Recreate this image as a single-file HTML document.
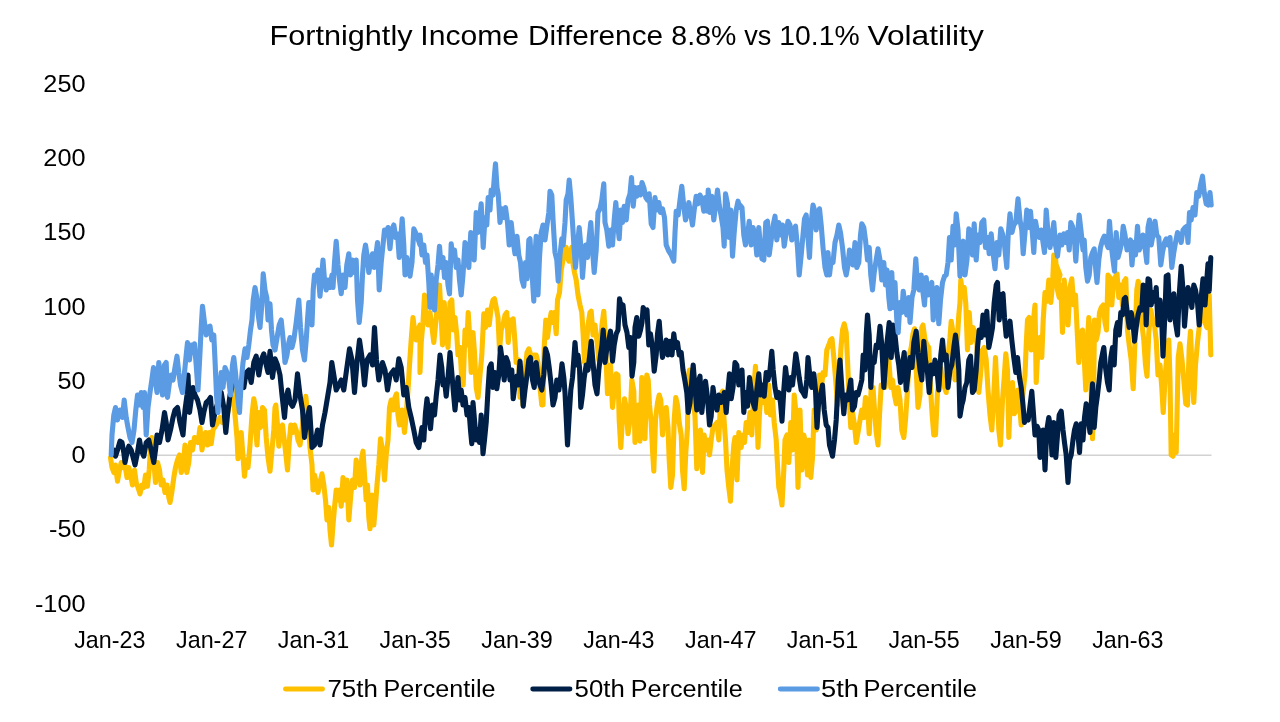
<!DOCTYPE html>
<html><head><meta charset="utf-8">
<style>
html,body{margin:0;padding:0;background:#fff;}
body{width:1280px;height:722px;overflow:hidden;}
svg{display:block;will-change:transform;font-family:"Liberation Sans",sans-serif;}
</style></head><body>
<svg width="1280" height="722" viewBox="0 0 1280 722">
<rect width="1280" height="722" fill="#fff"/>
<line x1="110" y1="455.3" x2="1211.5" y2="455.3" stroke="#d2d2d2" stroke-width="1.6"/>
<g fill="none" stroke-width="5.1" stroke-linejoin="round" stroke-linecap="round">
<path stroke="#FFC000" d="M110.5,457.5 112.0,467.5 113.8,472.5 115.5,465.0 117.5,481.2 119.5,470.0 121.2,462.5 123.0,467.5 125.0,465.0 127.0,477.5 128.8,467.5 130.5,475.0 132.5,485.0 134.5,470.0 136.2,482.5 138.0,487.5 140.0,493.8 142.0,485.0 143.8,487.5 145.5,475.0 147.5,486.2 149.2,470.0 150.8,445.0 151.8,437.5 153.0,450.0 154.5,470.0 155.5,482.5 157.5,462.5 159.5,470.0 161.2,485.0 163.0,480.0 165.0,492.5 167.0,485.0 168.8,497.5 170.0,502.5 171.8,492.5 173.8,477.5 175.5,467.5 177.5,460.0 179.5,455.0 181.2,472.5 183.2,465.0 185.0,445.0 186.8,472.5 188.8,462.5 190.5,442.5 192.5,450.0 194.5,437.5 196.2,440.0 198.0,442.5 200.0,427.5 202.0,450.0 203.8,437.5 205.5,432.5 207.5,445.0 209.5,432.5 211.2,443.8 213.0,430.0 216.2,425.0 220.0,417.5 222.5,422.5 226.2,418.8 228.8,407.5 231.2,395.0 233.0,386.2 235.0,415.0 237.0,437.5 238.0,458.8 239.5,450.0 241.2,432.5 242.5,450.0 244.5,476.2 246.2,460.0 248.0,467.5 250.0,445.0 252.0,415.0 253.8,398.8 255.5,407.5 255.5,427.5 257.0,445.0 258.8,412.5 260.5,427.5 262.5,407.5 264.5,410.0 266.2,437.5 268.0,457.5 270.0,471.2 272.0,450.0 273.8,430.0 275.0,407.5 275.8,405.0 277.5,425.0 278.8,446.2 280.5,430.0 282.5,425.0 284.5,442.5 286.2,457.5 287.5,470.0 289.2,442.5 290.8,425.0 292.5,432.5 294.5,425.0 296.2,430.0 298.0,440.0 300.0,445.0 302.0,430.0 303.8,412.5 305.8,396.2 308.0,420.0 310.0,447.5 312.0,465.0 313.0,490.0 314.5,475.0 316.2,482.5 318.0,492.5 320.0,482.5 322.0,473.8 323.8,485.0 325.5,500.0 327.0,520.0 328.8,507.5 330.0,530.0 331.5,545.0 333.0,525.0 334.5,507.5 336.2,490.0 338.0,500.0 339.5,490.0 341.2,506.2 343.0,477.5 345.0,500.0 347.0,480.0 348.8,520.0 350.8,495.0 352.5,480.0 354.5,487.5 356.2,460.0 358.0,472.5 360.0,485.0 361.8,457.5 363.0,451.2 364.5,475.0 366.2,500.0 367.5,485.0 368.8,517.5 370.0,528.8 372.0,495.0 373.8,525.0 375.5,505.0 377.0,485.0 378.8,465.0 380.5,438.8 382.5,450.0 384.5,480.0 386.2,455.0 388.0,440.0 389.5,407.5 391.2,400.0 393.0,410.0 395.0,397.5 396.5,393.8 398.0,415.0 399.5,425.0 402.0,410.0 404.5,432.5 406.2,415.0 408.0,390.0 409.5,365.0 411.2,340.0 413.0,317.5 414.5,330.0 416.2,340.0 418.0,330.0 420.0,325.0 420.0,372.5 421.2,342.5 423.0,322.5 424.5,295.0 426.2,317.5 428.0,325.0 430.0,312.5 432.0,327.5 433.8,342.5 435.5,325.0 437.5,305.0 439.5,285.0 441.2,317.5 442.5,345.0 444.2,302.5 446.2,330.0 448.0,347.5 450.0,302.5 451.8,300.0 453.2,330.0 455.0,317.5 456.8,335.0 458.0,355.0 460.0,347.5 461.8,380.0 463.2,385.0 465.0,330.0 466.8,345.0 468.2,312.5 470.0,342.5 471.2,372.5 473.0,332.5 474.5,352.5 476.2,387.5 478.0,397.5 480.0,375.0 481.8,355.0 483.8,313.8 485.5,327.5 487.5,310.0 489.2,325.0 491.2,307.5 493.0,300.0 494.5,298.8 496.2,307.5 498.0,317.5 499.5,350.0 501.2,330.0 503.0,325.0 505.0,315.0 506.8,312.5 508.2,342.5 510.0,320.0 511.8,325.0 513.2,318.8 515.0,342.5 516.2,362.5 518.8,360.0 520.0,397.5 521.2,375.0 523.0,405.0 525.0,372.5 527.0,352.5 528.8,348.8 530.8,355.0 532.5,357.5 534.2,355.0 536.2,355.0 538.0,362.5 540.0,387.5 541.8,405.0 543.0,405.0 544.2,347.5 545.8,320.0 547.5,337.5 549.2,323.8 551.2,312.5 552.5,322.5 554.2,312.5 556.2,333.8 557.5,300.0 559.5,292.5 561.2,270.0 563.0,260.0 564.5,248.8 566.2,247.5 567.5,257.5 569.0,261.2 570.5,252.5 572.0,247.0 573.2,265.0 574.5,272.5 576.2,280.0 578.0,295.0 580.0,305.0 581.8,312.5 583.2,335.0 584.5,362.5 586.2,347.5 588.0,325.0 590.0,312.5 591.2,311.2 593.0,335.0 595.0,325.0 597.0,341.2 598.8,360.0 600.5,345.0 602.0,325.0 603.8,311.2 605.0,330.0 606.2,362.5 607.5,393.8 609.2,380.0 610.5,365.0 612.5,407.5 614.2,390.0 616.2,373.8 618.0,375.0 619.2,420.0 620.8,447.5 622.5,417.5 624.5,398.8 626.2,407.5 628.0,433.8 630.0,420.0 631.8,380.0 633.8,391.2 635.0,442.5 636.8,420.0 638.2,405.0 640.0,441.2 641.8,377.5 643.2,385.0 645.0,438.8 646.8,375.0 648.2,380.0 649.5,405.0 651.2,422.5 652.5,450.0 653.8,471.2 655.5,420.0 657.5,402.5 659.2,395.0 660.8,400.0 662.5,435.0 664.2,415.0 666.2,407.5 668.0,427.5 669.2,460.0 670.8,487.5 672.5,475.0 674.2,420.0 675.8,397.5 677.5,405.0 679.2,422.5 681.2,435.0 682.5,470.0 684.2,488.8 685.8,452.5 687.5,427.5 688.0,377.5 689.5,370.0 691.2,385.0 693.2,397.5 695.0,416.2 696.8,468.8 698.8,452.5 700.5,430.0 702.5,472.5 704.2,435.0 706.2,450.0 708.0,440.0 709.5,455.0 711.2,440.0 713.0,427.5 715.0,425.0 717.0,422.5 718.8,440.0 720.8,395.0 722.5,391.2 724.2,422.5 725.5,440.0 727.0,470.0 728.8,487.5 730.5,501.2 732.0,470.0 733.8,445.0 735.0,437.5 737.0,480.0 738.8,432.5 740.0,440.0 740.0,440.0 741.2,447.5 743.0,435.0 744.5,442.5 746.2,422.5 748.0,432.5 750.0,412.5 751.8,435.0 753.8,390.0 755.5,366.2 757.0,410.0 758.0,447.5 759.5,412.5 761.2,392.5 763.0,402.5 765.0,390.0 766.8,412.5 768.8,385.0 770.5,415.0 772.5,400.0 774.2,422.5 776.2,440.0 777.5,465.0 778.8,487.5 780.5,495.0 782.0,505.0 783.8,470.0 785.0,440.0 787.0,435.0 788.8,462.5 790.8,422.5 792.5,450.0 794.2,395.0 796.2,415.0 798.0,487.5 800.0,410.0 801.8,470.0 803.8,435.0 805.5,442.5 807.5,475.0 809.2,440.0 810.8,477.5 812.5,457.5 814.2,410.0 816.2,430.0 818.0,407.5 819.5,375.0 821.2,390.0 823.0,372.5 825.0,375.0 826.8,350.0 828.8,345.0 830.5,340.0 832.0,338.8 833.8,357.5 835.5,377.5 837.5,405.0 839.2,385.0 840.8,350.0 842.5,330.0 844.2,323.8 846.2,332.5 847.5,360.0 849.2,400.0 850.8,427.5 852.5,412.5 854.5,425.0 856.2,442.5 858.0,432.5 860.0,420.0 861.8,410.0 863.8,417.5 865.5,397.5 867.5,405.0 869.2,433.8 871.2,387.5 873.0,387.5 874.5,410.0 876.2,432.5 878.0,445.0 879.5,415.0 881.2,385.0 883.0,387.5 885.0,387.5 887.0,370.0 888.8,360.0 890.8,387.5 892.5,380.0 894.5,395.0 896.2,403.8 898.0,387.5 900.0,400.0 901.8,430.0 903.8,437.5 905.5,420.0 907.5,390.0 909.2,355.0 911.2,347.5 913.0,333.8 914.5,328.8 916.2,370.0 918.0,407.5 920.0,395.0 921.8,327.5 923.0,325.0 925.0,340.0 927.0,345.0 928.8,347.5 930.5,387.5 932.0,412.5 933.8,435.0 935.5,435.0 937.5,392.5 939.2,380.0 940.8,367.5 942.5,380.0 944.5,387.5 946.2,392.5 948.0,357.5 950.0,337.5 951.2,321.2 953.0,332.5 955.0,380.0 957.0,345.0 958.8,315.0 960.0,302.5 960.8,280.0 962.5,292.5 964.2,287.5 965.8,303.8 967.5,350.0 969.2,312.5 971.2,342.5 973.0,327.5 975.0,332.5 976.8,342.5 978.8,392.5 980.5,375.0 982.5,350.0 984.2,347.5 986.2,360.0 988.0,390.0 990.0,415.0 991.8,430.0 993.8,395.0 995.5,357.5 997.0,390.0 998.8,430.0 1000.5,445.0 1002.5,400.0 1004.2,377.5 1005.8,353.8 1007.5,370.0 1008.8,437.5 1010.5,392.5 1012.5,382.5 1014.2,413.8 1016.2,410.0 1018.0,390.0 1020.0,410.0 1021.2,425.0 1023.0,392.5 1025.0,375.0 1026.2,345.0 1027.5,320.0 1029.2,317.5 1031.2,350.0 1033.0,325.0 1035.0,305.0 1036.2,382.5 1038.2,342.5 1040.0,337.5 1041.8,357.5 1043.2,320.0 1045.0,292.5 1047.0,301.2 1048.8,280.0 1050.8,302.5 1052.5,285.0 1053.8,255.0 1055.5,257.5 1057.5,285.0 1060.0,275.0 1056.2,265.0 1057.5,290.0 1059.2,297.5 1060.8,285.0 1062.5,332.5 1064.2,280.0 1066.2,302.5 1068.0,325.0 1070.0,287.5 1071.8,278.8 1073.8,305.0 1075.5,295.0 1077.0,327.5 1078.8,362.5 1080.5,337.5 1082.5,330.0 1084.2,357.5 1085.8,390.0 1087.5,340.0 1088.8,317.5 1090.5,340.0 1091.5,405.0 1092.5,438.8 1093.5,405.0 1094.5,320.0 1096.2,340.0 1098.0,332.5 1099.5,312.5 1101.2,307.5 1103.2,305.0 1105.0,322.5 1106.5,330.0 1108.0,275.0 1110.0,277.5 1111.8,305.0 1113.2,286.2 1115.0,277.5 1117.0,273.8 1118.8,297.5 1120.8,285.0 1122.5,305.0 1124.2,281.2 1125.8,278.8 1127.5,330.0 1129.2,345.0 1131.2,360.0 1133.2,388.8 1135.0,340.0 1136.8,290.0 1138.2,281.2 1140.0,290.0 1142.0,325.0 1143.8,340.0 1145.5,365.0 1147.0,376.2 1148.8,332.5 1150.8,310.0 1152.5,318.8 1154.5,325.0 1156.2,340.0 1158.0,375.0 1160.0,365.0 1161.8,387.5 1163.2,412.5 1165.0,380.0 1167.0,352.5 1168.8,340.0 1170.0,380.0 1171.2,455.0 1173.0,456.2 1174.5,435.0 1176.2,452.5 1177.5,392.5 1178.2,357.5 1180.0,343.8 1182.0,360.0 1183.8,380.0 1185.8,403.8 1187.5,405.0 1189.2,347.5 1190.5,331.2 1192.0,370.0 1193.8,402.5 1195.5,365.0 1197.5,342.5 1199.2,327.5 1201.2,312.5 1203.0,307.5 1205.0,322.5 1206.8,327.5 1208.0,297.5 1209.2,295.0 1210.8,355.0"/>
<path stroke="#001F47" d="M112.5,452.5 113.8,450.0 115.5,456.2 117.5,450.0 120.0,441.2 122.0,442.5 123.8,452.5 125.0,462.5 127.0,452.5 128.8,446.2 131.2,450.0 133.8,460.0 135.0,465.0 137.5,452.5 139.5,440.0 141.2,450.0 143.8,456.2 146.2,442.5 148.8,440.0 151.2,450.0 153.8,462.5 155.5,450.0 157.0,435.0 159.5,442.5 162.0,430.0 164.5,412.5 166.2,422.5 168.0,440.0 170.5,430.0 173.0,417.5 175.0,410.0 177.5,407.5 180.0,422.5 183.0,435.0 185.0,410.0 187.0,395.0 188.0,375.0 189.5,412.5 191.2,400.0 193.0,387.5 195.0,395.0 197.5,400.0 200.0,410.0 202.0,422.5 203.8,412.5 206.2,402.5 208.8,400.0 210.5,397.5 212.5,425.0 214.5,415.0 216.2,407.5 218.8,400.0 221.2,392.5 223.8,407.5 225.8,432.5 227.5,415.0 230.0,395.0 232.5,385.0 235.0,382.5 243.8,387.5 246.2,372.5 248.8,370.0 251.2,382.5 253.8,362.5 256.2,356.2 258.8,375.0 261.2,360.0 263.8,353.8 266.2,365.0 268.0,372.5 270.0,351.2 272.5,377.5 275.0,358.8 277.5,365.0 280.0,375.0 282.0,395.0 284.5,417.5 286.2,397.5 288.0,390.0 290.0,402.5 292.5,406.2 295.0,400.0 297.5,373.8 300.0,395.0 302.5,410.0 304.5,437.5 307.0,420.0 309.5,407.5 312.0,447.5 314.5,445.0 317.5,430.0 320.0,445.0 322.5,425.0 325.0,412.5 327.5,397.5 330.0,382.5 331.8,362.5 333.8,375.0 336.2,390.0 338.8,385.0 341.2,380.0 343.8,390.0 346.2,372.5 349.5,348.8 352.0,360.0 354.5,392.5 357.0,362.5 359.5,340.0 362.0,357.5 364.5,385.0 367.0,360.0 370.0,355.0 372.5,365.0 374.5,327.5 376.5,360.0 378.8,380.0 382.5,362.5 385.0,370.0 387.5,390.0 390.0,375.0 393.8,370.0 396.2,380.0 398.8,358.8 401.2,367.5 403.8,395.0 406.2,387.5 408.8,407.5 411.2,417.5 413.8,430.0 416.2,442.5 418.8,447.5 420.0,440.0 422.0,427.5 423.8,440.0 425.5,412.5 427.0,398.8 428.8,415.0 430.5,428.8 432.5,405.0 434.5,415.0 436.2,396.2 438.0,380.0 440.0,355.0 441.8,367.5 443.0,385.0 444.5,380.0 446.2,396.2 448.0,377.5 450.0,352.5 451.8,372.5 453.2,390.0 455.0,410.0 456.8,390.0 458.0,377.5 459.5,400.0 461.2,390.0 463.0,405.0 465.0,397.5 467.0,415.0 468.8,407.5 470.5,430.0 471.8,443.8 473.0,402.5 474.5,420.0 476.2,440.0 478.0,430.0 479.5,442.5 481.2,415.0 483.0,453.8 484.5,440.0 486.2,422.5 488.0,390.0 489.5,367.5 491.2,363.8 493.0,387.5 495.0,372.5 496.8,388.8 498.8,375.0 500.5,347.5 502.5,362.5 504.2,380.0 506.2,357.5 508.0,362.5 510.0,380.0 511.8,370.0 513.2,398.8 515.0,385.0 516.8,376.2 518.2,385.0 520.0,361.2 522.0,385.0 523.2,406.2 525.0,390.0 527.0,375.0 528.8,360.0 530.5,357.5 532.5,380.0 534.2,387.5 536.2,362.5 538.0,377.5 540.0,385.0 541.8,390.0 543.8,375.0 545.5,348.8 547.5,355.0 549.2,367.5 551.2,385.0 553.0,405.0 555.0,397.5 556.8,380.0 558.8,390.0 560.5,378.8 562.0,363.8 563.8,377.5 565.0,392.5 566.2,417.5 567.5,445.0 569.2,415.0 570.8,390.0 572.5,377.5 573.8,360.0 575.0,342.5 576.8,365.0 578.0,355.0 579.5,367.5 580.8,407.5 582.5,395.0 584.2,377.5 586.2,365.0 588.0,370.0 590.0,352.5 591.2,341.2 593.0,362.5 595.0,385.0 597.0,393.8 598.8,370.0 600.5,355.0 602.0,345.0 603.2,330.0 605.0,362.5 607.0,347.5 608.8,340.0 610.5,331.2 612.5,361.2 614.2,345.0 616.2,333.8 618.0,330.0 619.5,298.8 621.2,307.5 623.0,305.0 625.0,325.0 627.0,332.5 628.8,347.5 630.5,337.5 632.0,376.2 633.8,362.5 635.0,327.5 636.8,317.5 638.8,336.2 640.5,330.0 642.0,322.5 643.2,307.5 645.0,311.2 647.0,310.0 648.8,345.0 650.5,333.8 652.5,347.5 654.2,371.2 656.2,355.0 657.5,333.8 659.2,321.2 660.8,342.5 662.5,357.5 664.5,348.8 666.2,340.0 668.0,355.0 670.0,341.2 672.0,355.0 673.8,333.8 675.5,347.5 677.5,342.5 679.2,355.0 681.2,352.5 683.0,370.0 685.0,381.2 686.8,392.5 688.2,412.5 690.0,402.5 691.8,380.0 693.2,365.0 695.0,387.5 696.8,410.0 698.2,382.5 700.0,376.2 701.8,412.5 703.8,392.5 705.5,381.2 707.5,397.5 709.5,425.0 711.2,416.2 713.0,387.5 715.0,402.5 717.0,410.0 718.8,395.0 720.8,402.5 722.5,400.0 724.2,392.5 726.2,412.5 728.0,390.0 729.5,373.8 731.2,398.8 733.0,387.5 735.0,362.5 736.8,365.0 738.8,385.0 740.0,380.0 740.0,380.0 742.0,370.0 743.8,412.5 745.5,392.5 747.5,406.2 749.5,377.5 751.2,390.0 753.0,402.5 755.0,408.8 756.8,390.0 758.8,373.8 760.5,395.0 762.5,385.0 764.2,396.2 766.2,372.5 768.0,380.0 770.0,370.0 771.8,351.2 773.2,370.0 775.0,387.5 776.8,397.5 778.8,392.5 780.5,402.5 782.0,421.2 783.8,390.0 785.5,367.5 787.0,380.0 788.8,390.0 790.8,377.5 792.5,385.0 794.2,370.0 795.8,353.8 797.5,365.0 799.2,377.5 801.2,390.0 803.0,392.5 805.0,396.2 806.8,380.0 808.0,357.5 810.0,377.5 811.8,387.5 813.8,373.8 815.5,390.0 817.0,427.5 818.8,400.0 820.5,395.0 822.5,385.0 824.2,410.0 826.2,425.0 828.0,427.5 829.5,445.0 831.2,451.2 832.5,456.2 834.5,440.0 836.2,420.0 838.2,380.0 840.0,360.0 841.8,387.5 843.8,413.8 845.5,395.0 847.5,400.0 849.2,390.0 850.8,380.0 852.5,410.0 854.5,406.2 856.2,392.5 858.0,395.0 860.0,387.5 861.8,380.0 863.2,355.0 865.0,370.0 866.2,335.0 867.5,315.0 869.2,335.0 870.8,387.5 872.5,360.0 874.2,362.5 876.2,345.0 878.0,347.5 880.0,326.2 881.8,345.0 883.8,387.5 885.5,365.0 887.0,342.5 889.2,322.5 891.2,357.5 893.0,325.0 895.0,335.0 896.8,352.5 898.8,365.0 900.5,382.5 902.5,365.0 904.2,352.5 906.2,390.0 908.0,375.0 910.0,357.5 912.0,367.5 913.8,342.5 916.2,331.2 918.0,352.5 920.0,370.0 921.8,380.0 923.8,341.2 925.5,360.0 927.5,372.5 929.2,392.5 931.2,365.0 933.2,373.8 935.0,360.0 937.0,370.0 938.8,390.0 940.8,355.0 942.5,340.0 944.2,360.0 946.2,355.0 948.0,387.5 950.0,370.0 951.8,365.0 953.8,347.5 955.5,335.0 957.0,347.5 958.8,370.0 960.0,416.2 961.8,405.0 963.2,400.0 965.0,387.5 966.8,382.5 968.8,360.0 970.5,356.2 972.5,392.5 974.2,390.0 976.2,370.0 977.5,347.5 979.2,330.0 981.2,337.5 983.0,315.0 985.0,335.0 986.8,311.2 988.8,347.5 990.8,337.5 992.5,327.5 994.2,302.5 996.2,285.0 997.5,282.5 999.2,320.0 1001.2,295.0 1003.0,293.8 1004.5,317.5 1006.2,336.2 1008.0,330.0 1010.0,321.2 1011.8,340.0 1013.8,357.5 1015.8,372.5 1017.5,357.5 1019.5,377.5 1021.2,387.5 1023.0,405.0 1024.5,422.5 1026.2,417.5 1028.2,420.0 1030.0,406.2 1031.8,391.2 1033.2,410.0 1035.0,435.0 1037.0,426.2 1038.8,430.0 1040.0,457.5 1041.8,447.5 1043.2,430.0 1045.0,470.0 1046.8,430.0 1048.8,417.5 1050.5,427.5 1052.0,455.0 1053.8,422.5 1055.8,457.5 1057.5,435.0 1059.2,415.0 1061.2,411.2 1063.0,430.0 1064.5,442.5 1066.2,455.0 1068.0,482.5 1069.5,460.0 1071.2,455.0 1073.0,440.0 1074.5,430.0 1076.2,423.8 1078.0,435.0 1079.5,452.5 1081.2,423.8 1083.0,440.0 1084.5,417.5 1086.2,403.8 1088.0,417.5 1090.0,432.5 1091.2,405.0 1092.5,383.8 1094.2,427.5 1095.8,407.5 1097.5,395.0 1099.2,380.0 1100.8,362.5 1102.5,353.8 1103.8,347.5 1105.5,367.5 1107.5,382.5 1109.2,390.0 1110.8,357.5 1112.5,347.5 1114.2,365.0 1115.8,330.0 1117.5,322.5 1119.2,335.0 1120.8,312.5 1122.5,315.0 1124.2,298.8 1125.5,297.5 1127.5,315.0 1129.2,327.5 1131.2,312.5 1133.0,322.5 1134.5,341.2 1136.2,327.5 1138.0,315.0 1140.0,307.5 1141.8,310.0 1143.2,285.0 1145.0,286.2 1146.2,325.0 1148.0,278.8 1149.5,280.0 1151.2,305.0 1153.0,292.5 1155.0,301.2 1156.2,287.5 1158.0,325.0 1160.0,300.0 1161.8,322.5 1163.0,356.2 1165.0,312.5 1166.2,276.2 1168.0,275.0 1170.0,320.0 1171.8,302.5 1173.8,293.8 1175.5,322.5 1177.5,335.0 1179.2,295.0 1181.2,266.2 1183.0,290.0 1184.5,326.2 1186.2,305.0 1188.0,287.5 1190.0,295.0 1191.8,307.5 1193.8,285.0 1195.5,290.0 1197.5,302.5 1199.2,325.0 1201.2,297.5 1203.0,278.8 1205.0,305.0 1206.8,280.0 1208.0,263.8 1209.2,291.2 1210.8,257.5"/>
<path stroke="#5B9BE3" d="M111.2,455.0 112.0,435.0 113.8,415.0 115.5,407.5 117.5,420.0 120.0,410.0 122.5,417.5 124.2,400.0 126.2,417.5 128.0,427.5 130.0,437.5 132.0,442.5 134.0,430.0 135.8,410.0 137.5,395.0 139.5,405.0 141.2,392.5 143.0,407.5 144.5,392.5 146.2,435.0 148.0,407.5 150.0,392.5 151.8,380.0 153.5,367.5 155.0,377.5 157.0,392.5 158.8,362.5 160.5,375.0 162.5,395.0 164.5,365.0 166.2,362.5 167.5,397.5 169.5,382.5 171.2,375.0 173.0,380.0 175.0,367.5 177.0,356.2 178.8,372.5 180.5,385.0 182.5,392.5 184.5,372.5 186.2,355.0 187.5,342.5 189.5,360.0 191.2,345.0 193.0,352.5 194.5,343.8 196.2,365.0 198.0,390.0 200.0,352.5 201.2,327.5 202.5,306.2 204.5,322.5 206.2,335.0 208.0,327.5 210.0,326.2 211.8,340.0 213.8,335.0 215.0,360.0 216.5,395.0 218.0,412.5 219.5,390.0 221.2,372.5 223.0,387.5 225.0,367.5 227.0,372.5 228.8,380.0 230.5,395.0 232.5,365.0 233.8,357.5 235.5,372.5 237.5,395.0 239.5,412.5 241.2,382.5 243.0,362.5 245.0,348.8 247.0,357.5 248.8,345.0 250.5,330.0 252.0,320.0 253.2,300.0 255.0,287.5 256.8,297.5 258.2,315.0 260.0,327.5 261.8,305.0 263.2,273.8 265.0,290.0 266.8,297.5 268.0,320.0 270.0,303.8 271.5,330.0 273.0,345.0 275.0,350.0 277.5,335.0 279.2,325.0 281.2,320.0 283.2,340.0 285.0,362.5 287.0,355.0 288.8,342.5 290.0,337.5 292.0,347.5 293.8,340.0 296.2,322.5 298.8,300.0 300.5,327.5 302.5,350.0 304.5,360.0 306.2,340.0 307.5,320.0 308.8,302.5 310.5,302.5 312.0,325.0 313.2,290.0 314.5,275.0 316.2,280.0 318.0,270.0 320.0,296.2 321.5,277.5 323.0,260.0 324.5,280.0 326.2,290.0 328.0,280.0 330.0,287.5 332.0,275.0 333.0,287.5 334.5,262.5 336.2,241.2 338.0,265.0 339.5,280.0 341.2,293.8 343.0,275.0 345.0,287.5 346.8,265.0 348.8,253.8 350.5,275.0 352.5,260.0 354.2,272.5 356.2,260.0 357.5,300.0 359.2,322.5 361.2,302.5 362.5,275.0 363.8,255.0 365.5,245.0 367.0,255.0 368.8,272.5 370.8,260.0 372.5,253.8 374.2,267.5 376.2,252.5 377.5,242.5 379.2,290.0 381.2,262.5 383.0,245.0 384.5,230.0 386.2,233.8 388.0,227.5 390.0,248.8 391.8,230.0 393.8,225.0 395.8,237.5 397.5,233.8 399.2,257.5 400.8,237.5 402.2,218.8 403.8,245.0 405.0,275.0 406.8,257.5 408.2,265.0 410.0,276.2 412.0,262.5 413.8,228.8 415.5,232.5 417.5,237.5 420.0,245.0 420.0,235.0 422.0,255.0 423.8,245.0 425.5,262.5 427.0,255.0 428.8,282.5 430.0,307.5 431.2,275.0 432.5,290.0 434.5,310.0 436.2,280.0 438.0,265.0 439.5,246.2 441.2,267.5 443.0,257.5 444.5,277.5 446.2,262.5 448.0,285.0 449.5,293.8 451.2,243.8 453.0,260.0 454.5,250.0 456.2,267.5 458.0,260.0 459.5,280.0 461.2,295.0 463.0,275.0 465.0,242.5 467.0,247.5 468.8,267.5 470.8,232.5 472.5,237.5 474.2,260.0 476.2,212.5 478.0,232.5 480.0,215.0 481.2,203.8 483.2,247.5 485.0,217.5 486.8,225.0 488.2,197.5 490.0,210.0 491.2,190.0 493.0,195.0 494.5,175.0 495.5,163.8 497.0,187.5 498.2,193.8 500.0,222.5 502.0,208.8 503.8,217.5 505.5,207.5 507.5,222.5 509.2,245.0 511.2,222.5 513.0,240.0 515.0,253.8 517.0,236.2 518.8,255.0 520.5,262.5 522.0,280.0 523.8,286.2 525.5,262.5 527.0,278.8 528.8,240.0 530.0,238.8 531.8,270.0 533.8,301.2 535.0,255.0 536.2,236.2 538.0,295.0 539.5,257.5 541.2,232.5 543.0,225.0 545.0,240.0 547.0,225.0 548.8,212.5 550.0,191.2 551.8,195.0 553.2,222.5 555.0,252.5 556.8,260.0 558.2,281.2 560.0,255.0 561.8,238.8 563.2,245.0 565.0,222.5 566.2,200.0 568.0,193.8 569.2,180.0 570.8,197.5 572.5,222.5 574.2,250.0 575.5,267.5 577.5,245.0 579.2,227.5 581.2,250.0 582.5,277.5 584.2,255.0 585.8,245.0 587.5,257.5 589.2,237.5 590.8,222.5 592.5,250.0 594.2,272.5 596.2,250.0 598.0,212.5 600.0,208.8 601.8,200.0 603.8,183.8 605.0,222.5 606.8,230.0 608.8,246.2 610.8,230.0 612.5,245.0 614.2,220.0 615.8,202.5 617.5,222.5 619.2,238.8 620.8,210.0 622.5,222.5 624.2,206.2 626.2,220.0 628.0,200.0 630.0,193.8 631.5,177.5 633.2,206.2 635.0,187.5 636.8,196.2 638.8,187.5 640.5,195.0 642.0,182.5 643.8,187.5 645.8,197.5 647.5,200.0 649.2,193.8 651.2,223.8 653.0,227.5 655.0,197.5 656.8,210.0 658.8,202.5 660.5,212.5 662.5,208.8 664.5,217.5 666.2,245.0 668.8,251.2 671.2,255.0 673.8,261.2 675.0,232.5 676.2,211.2 678.2,215.0 680.0,200.0 681.8,186.2 683.8,206.2 685.5,220.0 687.5,212.5 688.8,202.5 690.5,212.5 692.5,225.0 694.2,210.0 696.2,196.2 698.0,203.8 700.0,195.0 701.8,198.8 703.8,211.2 705.5,197.5 707.5,211.2 708.2,190.0 710.0,212.5 711.8,196.2 713.8,220.0 715.8,203.8 717.5,190.0 719.2,205.0 721.2,216.2 723.0,227.5 724.2,246.2 725.5,193.8 727.5,203.8 729.2,237.5 730.8,210.0 732.5,256.2 734.2,232.5 736.2,210.0 738.0,201.2 740.0,207.5 740.0,205.0 742.0,207.5 743.8,235.0 745.5,245.0 747.5,235.0 749.2,221.2 751.2,245.0 753.0,227.5 755.0,235.0 756.8,255.0 758.8,227.5 760.5,247.5 762.0,258.8 763.8,260.0 765.8,222.5 767.5,221.2 769.2,255.0 771.2,240.0 773.2,225.0 775.0,216.2 776.8,240.0 778.8,222.5 780.5,235.0 782.5,225.0 784.2,246.2 786.2,232.5 788.0,221.2 790.0,225.0 791.8,240.0 793.8,230.0 795.5,226.2 797.5,247.5 799.2,275.0 801.2,255.0 803.0,235.0 804.5,218.8 806.2,215.0 808.0,237.5 809.5,257.5 811.2,222.5 813.0,205.0 814.5,210.0 816.2,230.0 818.0,215.0 819.5,208.8 821.2,225.0 823.0,247.5 825.0,267.5 826.8,275.0 828.0,252.5 829.5,275.0 831.2,260.0 833.0,262.5 835.0,242.5 837.0,235.0 838.8,225.0 840.5,232.5 842.5,247.5 844.5,267.5 846.2,275.0 848.0,265.0 849.5,250.0 851.2,255.0 853.0,265.0 855.0,242.5 856.8,267.5 858.8,262.5 860.5,235.0 861.8,223.8 863.8,227.5 865.5,240.0 867.5,260.0 869.2,247.5 870.8,275.0 872.5,290.0 874.2,272.5 876.2,260.0 878.0,248.8 880.0,260.0 881.8,280.0 883.8,262.5 885.5,285.0 887.0,270.0 888.8,297.5 890.0,308.8 891.8,272.5 893.2,307.5 895.0,282.5 896.8,320.0 898.2,332.5 900.0,302.5 901.8,312.5 903.2,291.2 905.0,305.0 906.8,315.0 908.8,297.5 910.0,322.5 912.0,297.5 913.8,290.0 915.8,258.8 917.5,285.0 919.2,290.0 921.2,275.0 923.0,292.5 924.5,305.0 926.2,277.5 928.0,295.0 930.0,285.0 931.8,282.5 933.2,320.0 935.0,295.0 936.8,287.5 938.8,323.8 940.5,300.0 942.5,282.5 944.5,276.2 946.2,275.0 948.0,262.5 949.5,237.5 951.2,260.0 953.0,226.2 954.5,245.0 956.2,213.8 958.0,230.0 960.0,276.2 961.8,247.5 963.2,241.2 965.0,275.0 967.0,260.0 968.8,228.8 970.5,232.5 972.5,255.0 974.2,223.8 976.2,260.0 978.0,235.0 980.0,242.5 981.8,222.5 983.8,220.0 985.5,247.5 987.5,237.5 989.2,253.8 991.2,233.8 993.0,252.5 995.0,268.8 997.0,242.5 998.8,255.0 1000.8,228.8 1002.5,233.8 1004.5,245.0 1006.8,267.5 1008.2,235.0 1010.0,213.8 1012.0,232.5 1013.8,225.0 1015.8,222.5 1018.0,198.8 1020.0,220.0 1021.8,230.0 1023.2,253.8 1025.0,232.5 1026.8,210.0 1028.8,227.5 1030.5,211.2 1032.5,235.0 1033.8,252.5 1035.5,221.2 1037.5,232.5 1039.2,237.5 1041.2,230.0 1043.0,242.5 1044.5,252.5 1046.2,210.0 1048.2,235.0 1050.0,247.5 1051.8,237.5 1053.8,222.5 1055.5,245.0 1057.5,256.2 1060.0,235.0 1060.0,235.0 1061.8,245.0 1063.8,233.8 1065.5,242.5 1067.5,232.5 1069.2,250.0 1070.8,222.5 1072.5,226.2 1074.2,235.0 1075.8,261.2 1077.5,235.0 1079.2,215.0 1081.2,232.5 1083.0,250.0 1084.2,240.0 1085.8,267.5 1087.5,281.2 1089.2,275.0 1090.8,257.5 1092.5,252.5 1094.2,248.8 1095.8,270.0 1097.0,282.5 1098.8,260.0 1100.5,247.5 1102.5,240.0 1104.2,236.2 1106.2,242.5 1108.0,247.5 1109.5,221.2 1111.2,245.0 1113.0,260.0 1114.5,271.2 1116.2,232.5 1118.0,257.5 1120.0,250.0 1121.8,242.5 1123.2,226.2 1125.0,235.0 1127.0,250.0 1128.8,242.5 1130.5,240.0 1132.0,265.0 1133.8,242.5 1135.5,255.0 1137.5,226.2 1139.2,250.0 1141.2,245.0 1143.0,235.0 1145.0,247.5 1146.8,262.5 1148.0,227.5 1149.5,220.0 1151.2,245.0 1153.0,235.0 1155.0,221.2 1156.8,235.0 1158.8,237.5 1160.8,265.0 1162.5,252.5 1164.5,242.5 1166.2,238.8 1168.0,245.0 1170.0,237.5 1171.8,267.5 1173.8,252.5 1175.5,242.5 1177.5,232.5 1179.5,236.2 1181.2,242.5 1183.0,230.0 1185.0,227.5 1186.8,226.2 1188.0,242.5 1189.5,212.5 1191.2,220.0 1193.0,207.5 1195.0,215.0 1196.8,192.5 1198.8,196.2 1200.5,185.0 1202.5,176.2 1204.2,192.5 1206.2,203.8 1208.0,205.0 1210.0,192.5 1211.2,205.0"/>

</g>
<g stroke-width="4.8" stroke-linecap="round">
<line x1="285.4" y1="689" x2="322.6" y2="689" stroke="#FFC000"/>
<line x1="532.7" y1="689" x2="570" y2="689" stroke="#001F47"/>
<line x1="780.2" y1="689" x2="817.5" y2="689" stroke="#5B9BE3"/>
</g>
<g fill="#000">
<text x="269.55" y="45.00" font-size="28.30" textLength="142.95" lengthAdjust="spacingAndGlyphs">Fortnightly</text>
<text x="420.29" y="45.00" font-size="28.30" textLength="98.80" lengthAdjust="spacingAndGlyphs">Income</text>
<text x="528.12" y="45.00" font-size="28.30" textLength="134.95" lengthAdjust="spacingAndGlyphs">Difference</text>
<text x="671.36" y="45.00" font-size="28.30" textLength="64.97" lengthAdjust="spacingAndGlyphs">8.8%</text>
<text x="744.20" y="45.00" font-size="28.30" textLength="27.11" lengthAdjust="spacingAndGlyphs">vs</text>
<text x="779.27" y="45.00" font-size="28.30" textLength="80.31" lengthAdjust="spacingAndGlyphs">10.1%</text>
<text x="867.50" y="45.00" font-size="28.30" textLength="116.25" lengthAdjust="spacingAndGlyphs">Volatility</text>
<text x="43.36" y="91.95" font-size="24.60" textLength="42.15" lengthAdjust="spacingAndGlyphs">250</text>
<text x="43.36" y="166.20" font-size="24.60" textLength="42.15" lengthAdjust="spacingAndGlyphs">200</text>
<text x="43.36" y="240.45" font-size="24.60" textLength="42.15" lengthAdjust="spacingAndGlyphs">150</text>
<text x="43.36" y="314.70" font-size="24.60" textLength="42.15" lengthAdjust="spacingAndGlyphs">100</text>
<text x="57.41" y="388.95" font-size="24.60" textLength="28.10" lengthAdjust="spacingAndGlyphs">50</text>
<text x="71.46" y="463.20" font-size="24.60" textLength="14.05" lengthAdjust="spacingAndGlyphs">0</text>
<text x="49.00" y="537.45" font-size="24.60" textLength="36.51" lengthAdjust="spacingAndGlyphs">-50</text>
<text x="34.95" y="611.70" font-size="24.60" textLength="50.57" lengthAdjust="spacingAndGlyphs">-100</text>
<text x="74.17" y="647.50" font-size="24.60" textLength="71.17" lengthAdjust="spacingAndGlyphs">Jan-23</text>
<text x="175.97" y="647.50" font-size="24.60" textLength="71.41" lengthAdjust="spacingAndGlyphs">Jan-27</text>
<text x="277.77" y="647.50" font-size="24.60" textLength="71.41" lengthAdjust="spacingAndGlyphs">Jan-31</text>
<text x="379.57" y="647.50" font-size="24.60" textLength="71.17" lengthAdjust="spacingAndGlyphs">Jan-35</text>
<text x="481.37" y="647.50" font-size="24.60" textLength="71.41" lengthAdjust="spacingAndGlyphs">Jan-39</text>
<text x="583.17" y="647.50" font-size="24.60" textLength="71.17" lengthAdjust="spacingAndGlyphs">Jan-43</text>
<text x="684.97" y="647.50" font-size="24.60" textLength="71.41" lengthAdjust="spacingAndGlyphs">Jan-47</text>
<text x="786.77" y="647.50" font-size="24.60" textLength="71.41" lengthAdjust="spacingAndGlyphs">Jan-51</text>
<text x="888.57" y="647.50" font-size="24.60" textLength="71.17" lengthAdjust="spacingAndGlyphs">Jan-55</text>
<text x="990.37" y="647.50" font-size="24.60" textLength="71.41" lengthAdjust="spacingAndGlyphs">Jan-59</text>
<text x="1092.17" y="647.50" font-size="24.60" textLength="71.17" lengthAdjust="spacingAndGlyphs">Jan-63</text>
<text x="327.40" y="697.00" font-size="24.60" textLength="50.45" lengthAdjust="spacingAndGlyphs">75th</text>
<text x="383.59" y="697.00" font-size="24.60" textLength="111.92" lengthAdjust="spacingAndGlyphs">Percentile</text>
<text x="574.57" y="697.00" font-size="24.60" textLength="50.18" lengthAdjust="spacingAndGlyphs">50th</text>
<text x="630.79" y="697.00" font-size="24.60" textLength="111.92" lengthAdjust="spacingAndGlyphs">Percentile</text>
<text x="821.01" y="697.00" font-size="24.60" textLength="37.92" lengthAdjust="spacingAndGlyphs">5th</text>
<text x="863.46" y="697.00" font-size="24.60" textLength="113.46" lengthAdjust="spacingAndGlyphs">Percentile</text>

</g>
</svg>
</body></html>
